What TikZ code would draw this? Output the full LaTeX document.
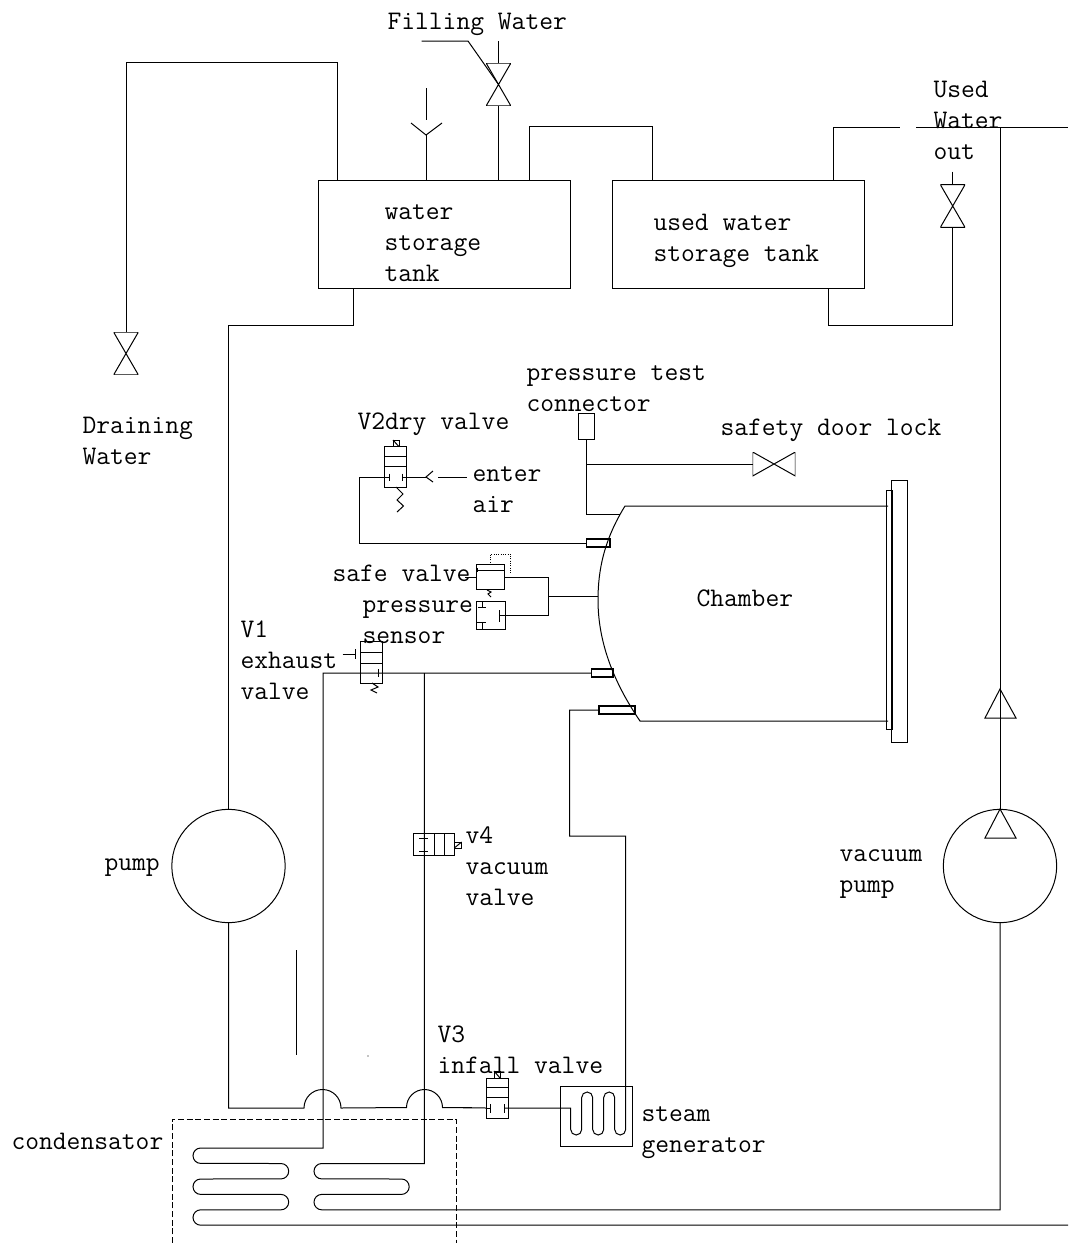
\documentclass[tikz,border=0pt]{standalone}
\begin{document}
\begin{tikzpicture}[
                x=0.75pt,
                y=-0.75pt,
                line width=0.75pt,
                box/.style={
                  draw,
                  rectangle,
                  inner sep=0pt,
                  outer sep=0pt,
                },
                tube/.style={
                  box,
                  line width=1.1pt,
                  minimum height=6pt,
                },
                pumpbody/.style={
                  draw,
                  circle,
                  inner sep=0pt,
                  outer sep=0pt,
                  minimum size=85pt,
                },
                bowtie/.style={
                  inner sep=0pt,
                  outer sep=0pt,
                  minimum width=18.5pt,
                  minimum height=32pt,
                  path picture={
                    \draw (path picture bounding box.north west)--(path picture bounding box.south east)
                      --(path picture bounding box.south west)--(path picture bounding box.north east)--cycle ;
                  },
                },
                bowtieside/.style={
                  inner sep=0pt,
                  outer sep=0pt,
                  minimum width=32pt,
                  minimum height=18pt,
                  path picture={
                    \draw (path picture bounding box.north west)--(path picture bounding box.south east)
                      --(path picture bounding box.north east)--(path picture bounding box.south west)--cycle ;
                  },
                },
                label/.style={
                  anchor=base west,
                  align=left,
                  inner sep=0pt,
                  font=\fontsize{20.1pt}{22.9pt}\selectfont\ttfamily,
                },
              ]
              \useasboundingbox (0,0) rectangle (1068,1243) ;

              % tanks and pumps
              \node[box,minimum width=189pt,minimum height=81pt] at (444,234) (wtank) {} ;
              \node[box,minimum width=189pt,minimum height=81pt] at (738,234) (utank) {} ;
              \node[pumpbody] at (228.5,866) (pump) {} ;
              \node[pumpbody] at (1000,866) (vpump) {} ;

              % hand valves
              \node[bowtie] at (126,353.5) (drainv) {} ;
              \node[bowtie] at (498.5,84.5) (fillv) {} ;
              \node[bowtie] at (952.7,206) (usedv) {} ;
              \node[bowtieside] at (774,464) (lockv) {} ;

              % top of the tanks
              \coordinate (drainin) at (337,180) ;
              \coordinate (fillin) at (498.5,180) ;
              \coordinate (linka) at (529,180) ;
              \coordinate (linkb) at (652,180) ;
              \coordinate (usedup) at (833,180) ;
              \coordinate (fillend) at (498.5,41) ;
              \coordinate (filltail) at (421.5,41) ;
              \coordinate (airin) at (426,180) ;
              \coordinate (airfork) at (426,135) ;
              \coordinate (outend) at (900,127) ;
              \coordinate (outrest) at (916,127) ;
              \coordinate (outedge) at (1068,127) ;
              \coordinate (outdrop) at (1000,127) ;
              \coordinate (wtout) at (353,288) ;
              \coordinate (utout) at (828,288) ;

              \draw (drainv.north)--(126,62)--(337,62)--(drainin) ;
              \draw (fillend)--(fillv.north) ;
              \draw (fillv.south)--(fillin) ;
              \draw (filltail)--(468,41)--(fillv.center) ;
              \draw (airin)--(airfork) ;
              \draw (411,123)--(airfork)--(442,123) ;
              \draw (426,88)--(426,120) ;
              \draw (linka)--(529,126.5)--(652,126.5)--(linkb) ;
              \draw (usedup)--(833,127)--(outend) ;
              \draw (outrest)--(outedge) ;
              \draw (952.7,171.5)--(usedv.north) ;
              \draw (usedv.south)--(952.7,325)--(828,325)--(utout) ;
              \draw (outdrop)--(vpump.north) ;
              \draw (985,718)--(1000,689)--(1016,718)--cycle ;
              \draw (985,838)--(1000,809)--(1016,838)--cycle ;

              % water line, bumps over the two pipes
              \coordinate (v3in) at (486.5,1108) ;
              \draw (wtout)--(353,325)--(228.5,325)--(pump.north) ;
              \draw (pump.south)--(228.5,1108)--(304,1108)
                arc[start angle=180,end angle=360,radius=18.5]--(406.5,1107.5)
                arc[start angle=180,end angle=360,radius=18]--(v3in) ;
              \draw[line width=1.2pt] (442.5,1107.5)--(472,1107.5) ;

              % chamber
              \node[tube,minimum width=17.5pt] at (598.3,543) (tubea) {} ;
              \node[tube,minimum width=16pt] at (602.3,673) (tubeb) {} ;
              \node[tube,minimum width=27pt] at (617,710) (tubec) {} ;
              \draw (888,506)--(625,506)
                .. controls (604,540) and (598,570) .. (598,600)
                .. controls (598,640) and (612,680) .. (640,721)--(888,721) ;
              \node[box,minimum width=3.8pt,minimum height=179pt] at (889.5,610.3) (rim) {} ;
              \node[box,minimum width=11.3pt,minimum height=196.5pt] at (899.5,611) (flange) {} ;
              \coordinate (chamside) at (598,596) ;
              \coordinate (chamtop) at (620,514) ;

              % pressure test connector and door lock
              \node[box,minimum width=11.3pt,minimum height=18.8pt] at (586.5,426.5) (testc) {} ;
              \draw (testc.south)--(586.5,514)--(chamtop) ;
              \draw (586.5,464)--(lockv.west) ;

              % V2
              \node[box,minimum width=16.3pt,minimum height=30.3pt] at (395.8,467) (vtwo) {} ;
              \coordinate (vtwoin) at (389,477) ;
              \coordinate (vtwoout) at (402,477) ;
              \coordinate (forkv) at (426,477) ;
              \draw (385,456.7)--(406.7,456.7) ;
              \draw (385,466.7)--(406.7,466.7) ;
              \draw (393,440) rectangle (399,446.7) ;
              \draw (393,440)--(399,446.7) ;
              \draw (tubea.west)--(359.7,543)--(359.7,477)--(vtwoin) ;
              \draw (389,473.5)--(389,480.5) ;
              \draw (402,473.5)--(402,480.5) ;
              \draw (vtwoout)--(forkv) ;
              \draw (433,471)--(forkv)--(433,482) ;
              \draw (438,477)--(467,477) ;
              \draw (396,487)--(403,494)--(397,500)--(403.5,506)--(397,512) ;

              % safe valve and pressure sensor
              \node[box,minimum width=21pt,minimum height=18.3pt] at (490,577) (safev) {} ;
              \node[box,minimum width=22pt,minimum height=21pt] at (491.3,615) (sensor) {} ;
              \coordinate (tee) at (548.7,596) ;
              \coordinate (sensorin) at (499.3,615) ;
              \draw (476,570)--(504,570) ;
              \draw (465,577)--(safev.west) ;
              \draw (477,568)--(477,572) ;
              \draw[densely dotted] (490.3,565)--(490.3,554.3)--(510.7,554.3)--(510.7,574) ;
              \draw (safev.east)--(548.7,577)--(548.7,615)--(sensorin) ;
              \draw (tee)--(chamside) ;
              \draw (499.3,610)--(499.3,621.7) ;
              \draw (487,590)--(491,592)--(488,594)--(491,597) ;
              \draw (478,607)--(486,607) ;
              \draw (482.3,601)--(482.3,607) ;
              \draw (477,622.7)--(486,622.7) ;
              \draw (482.3,622.7)--(482.3,629) ;

              % V1
              \node[box,minimum width=16.5pt,minimum height=30.8pt] at (371.7,662.5) (vone) {} ;
              \coordinate (voneout) at (378,673) ;
              \coordinate (coilb) at (424.3,673) ;
              \draw (360.7,652)--(382.7,652) ;
              \draw (360.7,663)--(382.7,663) ;
              \draw (342.7,654)--(355,654) ;
              \draw (355,649)--(355,659) ;
              \draw (378,669)--(378,677) ;
              \draw (372,683)--(378,687)--(371,690)--(377,693) ;
              \draw (tubeb.west)--(voneout)--(323,673)--(323,1148)--(200.7,1148)
                arc[start angle=270,end angle=90,radius=7.7]--(281,1163.5)
                arc[start angle=270,end angle=450,radius=7.7]--(200.7,1179)
                arc[start angle=270,end angle=90,radius=7.7]--(281,1194.4)
                arc[start angle=270,end angle=450,radius=7.7]--(200.7,1209.8)
                arc[start angle=270,end angle=90,radius=7.7]--(1068,1225.2) ;
              \draw (coilb)--(424.3,1163.5)--(321.7,1163.5)
                arc[start angle=270,end angle=90,radius=7.7]--(401.5,1179)
                arc[start angle=270,end angle=450,radius=7.7]--(321.7,1194.4)
                arc[start angle=270,end angle=90,radius=7.7]--(1000,1209.8)--(vpump.south) ;

              % V4
              \node[box,minimum width=30.5pt,minimum height=16.3pt] at (434,844.8) (vfour) {} ;
              \draw (434,834)--(434,855.7) ;
              \draw (444.3,834)--(444.3,855.7) ;
              \draw (419,838)--(428,838) ;
              \draw (419,851.7)--(428,851.7) ;
              \draw (454.3,842) rectangle (461.6,848) ;
              \draw (454.3,848)--(461.6,842) ;

              % V3 and steam generator
              \node[box,minimum width=16.3pt,minimum height=30pt] at (497.3,1098) (vthree) {} ;
              \node[box,minimum width=54pt,minimum height=45pt] at (596,1116) (steam) {} ;
              \coordinate (coilin) at (570.7,1108) ;
              \draw (486.5,1087.5)--(508,1087.5) ;
              \draw (486.5,1097.5)--(508,1097.5) ;
              \draw (494,1071) rectangle (500,1078) ;
              \draw (494,1071)--(500,1078) ;
              \draw (v3in)--(490,1108) ;
              \draw (490,1104)--(490,1113) ;
              \draw (504,1104)--(504,1113) ;
              \draw (504,1108)--(coilin)--(570.7,1129.5)
                arc[start angle=180,end angle=0,radius=5.5]--(581.7,1097.5)
                arc[start angle=180,end angle=360,radius=5.5]--(592.7,1129.5)
                arc[start angle=180,end angle=0,radius=5.5]--(603.7,1097.5)
                arc[start angle=180,end angle=360,radius=5.5]--(614.7,1129.5)
                arc[start angle=180,end angle=0,radius=5.5]--(625.7,836)--(569.7,836)--(569.7,710)--(tubec.west) ;

              % condensator casing and marks
              \draw[dash pattern=on 4.5pt off 2pt] (172,1243)--(172,1119)--(456,1119)--(456,1243) ;
              \draw (296,950)--(296,1055) ;
              \fill (368,1056) circle (0.6) ;

              % labels
              \node[label] at (387,29) (lfill) {Filling Water} ;
              \node[label] at (933,159) (lused) {Used\\Water\\out} ;
              \node[label] at (384,281) (lwt) {water\\storage\\tank} ;
              \node[label] at (653,261) (lut) {used water\\storage tank} ;
              \node[label] at (82,464) (ldrain) {Draining\\Water} ;
              \node[label] at (526,411) (ltest) {pressure test\\connector} ;
              \node[label] at (357,429) (lvtwo) {V2dry valve} ;
              \node[label] at (720,435) (llock) {safety door lock} ;
              \node[label] at (472,512) (lair) {enter\\air} ;
              \node[label] at (332,581) (lsafe) {safe valve} ;
              \node[label] at (362,643) (lsens) {pressure\\sensor} ;
              \node[label] at (240,699) (lvone) {V1\\exhaust\\valve} ;
              \node[label] at (696,606) (lcham) {Chamber} ;
              \node[label] at (104,870) (lpump) {pump} ;
              \node[label] at (465,905) (lvfour) {v4\\vacuum\\valve} ;
              \node[label] at (839,892) (lvpump) {vacuum\\pump} ;
              \node[label] at (437,1073) (lvthree) {V3\\infall valve} ;
              \node[label] at (641,1152) (lsteam) {steam\\generator} ;
              \node[label] at (11,1149) (lcond) {condensator} ;
              \end{tikzpicture}
\end{document}
